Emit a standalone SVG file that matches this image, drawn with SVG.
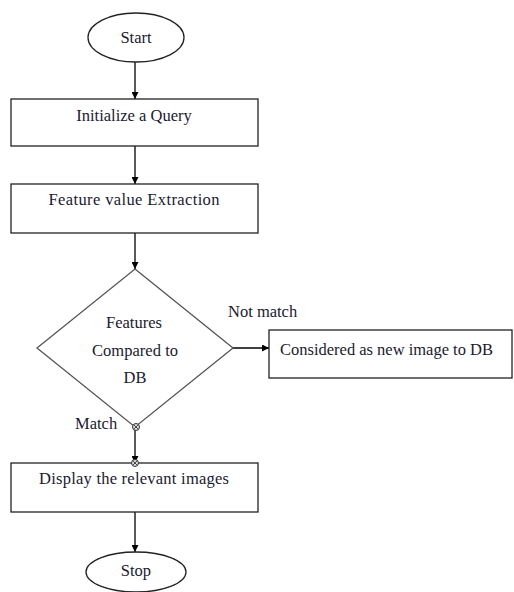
<svg xmlns="http://www.w3.org/2000/svg" width="514" height="592" viewBox="0 0 514 592">
  <defs>
    <marker id="arrow" viewBox="0 0 10 10" refX="10" refY="5" markerWidth="7" markerHeight="7" markerUnits="userSpaceOnUse" orient="auto">
      <path d="M0,0 L10,5 L0,10 z" fill="#000"/>
    </marker>
    <g id="junction">
      <circle r="3.5" fill="#ddd" stroke="#333" stroke-width="1"/>
      <path d="M-2.2,-2.2 L2.2,2.2 M-2.2,2.2 L2.2,-2.2" stroke="#333" stroke-width="0.9"/>
    </g>
  </defs>
  <style>
    .shape { fill: #fff; stroke: #222; stroke-width: 1.3; }
    .decision { fill: #fff; stroke: #555; stroke-width: 1.3; }
    .edge { stroke: #000; stroke-width: 1.3; fill: none; }
    .label { font-family: "Liberation Serif", "Times New Roman", serif; font-size: 16.5px; fill: #1a1a2e; }
    .mid { text-anchor: middle; }
  </style>
  <rect width="514" height="592" fill="#fff"/>

  <!-- connectors -->
  <g id="connectors">
    <line class="edge" x1="135" y1="62" x2="135" y2="99" marker-end="url(#arrow)"/>
    <line class="edge" x1="135" y1="146" x2="135" y2="184" marker-end="url(#arrow)"/>
    <line class="edge" x1="135" y1="233" x2="135" y2="269" marker-end="url(#arrow)"/>
    <line class="edge" x1="233" y1="348" x2="269" y2="348" marker-end="url(#arrow)"/>
    <line class="edge" x1="135" y1="427" x2="135" y2="463" marker-end="url(#arrow)"/>
    <line class="edge" x1="135" y1="512" x2="135" y2="552" marker-end="url(#arrow)"/>
    <text class="label" x="228" y="317">Not match</text>
    <text class="label" x="75" y="429">Match</text>
  </g>

  <g id="start">
    <ellipse class="shape" cx="136" cy="37.5" rx="48" ry="24.5"/>
    <text class="label mid" x="136" y="43">Start</text>
  </g>

  <g id="init-query">
    <rect class="shape" x="11" y="99" width="247" height="47"/>
    <text class="label mid" x="134" y="121">Initialize a Query</text>
  </g>

  <g id="feature-extraction">
    <rect class="shape" x="11" y="184" width="247" height="49"/>
    <text class="label mid" x="134" y="205" textLength="171">Feature value Extraction</text>
  </g>

  <g id="compare">
    <polygon class="decision" points="135,269 233,348 135,427 37,348"/>
    <text class="label mid" x="134" y="328">Features</text>
    <text class="label mid" x="135" y="356" textLength="86">Compared to</text>
    <text class="label mid" x="135" y="383">DB</text>
  </g>

  <g id="new-image">
    <rect class="shape" x="269" y="330" width="243" height="48"/>
    <text class="label" x="280" y="355" textLength="213" lengthAdjust="spacing">Considered as new image to DB</text>
  </g>

  <g id="display">
    <rect class="shape" x="11" y="463" width="247" height="49"/>
    <text class="label mid" x="134" y="484" textLength="190">Display the relevant images</text>
  </g>

  <g id="stop">
    <ellipse class="shape" cx="136" cy="572" rx="50" ry="20"/>
    <text class="label mid" x="136" y="576">Stop</text>
  </g>

  <!-- junction markers on the match branch -->
  <use href="#junction" x="136" y="427"/>
  <use href="#junction" x="135" y="463"/>
</svg>
